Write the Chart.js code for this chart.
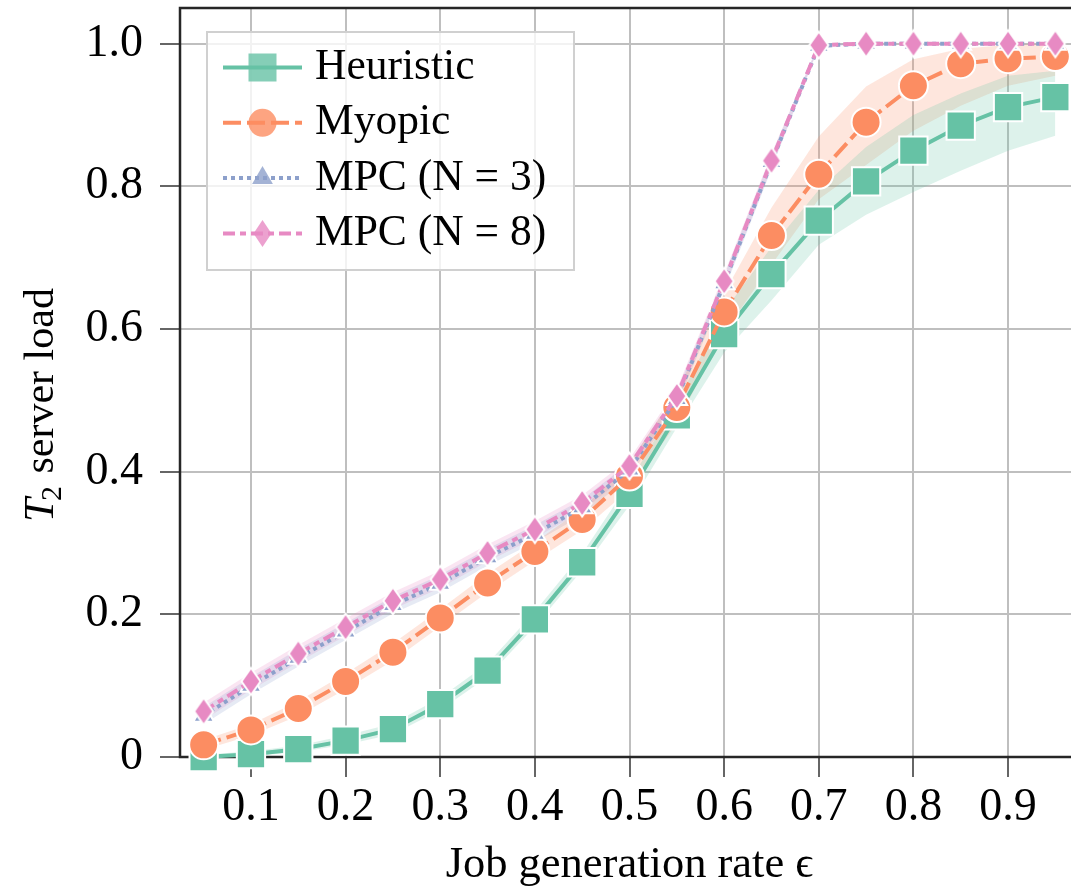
<!DOCTYPE html>
<html>
<head>
<meta charset="utf-8">
<script src="https://cdn.jsdelivr.net/npm/chart.js@4/dist/chart.umd.min.js"></script>
<style>
  html, body { margin: 0; padding: 0; background: #fff; overflow: hidden; }
  #wrap { width: 1090px; height: 892px; }
</style>
</head>
<body>
<div id="wrap"><canvas id="grafico" width="1090" height="892"></canvas></div>
<script>
const ctx = document.getElementById('grafico').getContext('2d');

// Eixo x: taxa de geração de jobs
const taxas = [0.05, 0.1, 0.15, 0.2, 0.25, 0.3, 0.35, 0.4, 0.45, 0.5,
               0.55, 0.6, 0.65, 0.7, 0.75, 0.8, 0.85, 0.9, 0.95];
const ticksX = [0.1, 0.2, 0.3, 0.4, 0.5, 0.6, 0.7, 0.8, 0.9];
const ticksY = [0, 0.2, 0.4, 0.6, 0.8, 1.0];

// Carga média do servidor T2 por estratégia
const heuristica = [0.000, 0.004, 0.011, 0.023, 0.039, 0.074, 0.121, 0.193, 0.273, 0.369,
                    0.479, 0.593, 0.677, 0.752, 0.807, 0.850, 0.885, 0.911, 0.925];
const miope      = [0.017, 0.038, 0.068, 0.106, 0.147, 0.195, 0.244, 0.288, 0.333, 0.394,
                    0.490, 0.624, 0.731, 0.817, 0.890, 0.941, 0.972, 0.979, 0.982];
const mpc3       = [0.058, 0.100, 0.139, 0.176, 0.213, 0.243, 0.280, 0.313, 0.350, 0.403,
                    0.502, 0.664, 0.834, 0.997, 1.000, 1.000, 1.000, 1.000, 1.000];
const mpc8       = [0.064, 0.106, 0.145, 0.182, 0.219, 0.249, 0.286, 0.319, 0.356, 0.408,
                    0.506, 0.667, 0.836, 0.998, 1.000, 1.000, 1.000, 1.000, 1.000];

// Intervalos de confiança (faixas sombreadas)
const heuristicaMin = [0.000, 0.001, 0.007, 0.017, 0.032, 0.066, 0.112, 0.183, 0.262, 0.353,
                       0.462, 0.567, 0.640, 0.718, 0.760, 0.792, 0.822, 0.850, 0.871];
const heuristicaMax = [0.003, 0.008, 0.016, 0.030, 0.047, 0.083, 0.131, 0.204, 0.285, 0.385,
                       0.497, 0.625, 0.715, 0.795, 0.855, 0.900, 0.930, 0.955, 0.962];
const miopeMin = [0.010, 0.030, 0.058, 0.095, 0.135, 0.183, 0.231, 0.275, 0.318, 0.375,
                  0.468, 0.595, 0.690, 0.782, 0.830, 0.878, 0.913, 0.941, 0.955];
const miopeMax = [0.024, 0.046, 0.078, 0.117, 0.159, 0.207, 0.257, 0.301, 0.348, 0.413,
                  0.512, 0.650, 0.770, 0.870, 0.940, 0.978, 0.993, 0.998, 1.000];
const mpc3Min = [0.046, 0.088, 0.127, 0.164, 0.201, 0.231, 0.268, 0.301, 0.339, 0.393,
                 0.492, 0.654, 0.824, 0.995, 1.000, 1.000, 1.000, 1.000, 1.000];
const mpc3Max = [0.070, 0.112, 0.151, 0.188, 0.225, 0.255, 0.292, 0.325, 0.361, 0.413,
                 0.512, 0.674, 0.844, 1.000, 1.000, 1.000, 1.000, 1.000, 1.000];
const mpc8Min = [0.052, 0.094, 0.133, 0.170, 0.207, 0.237, 0.274, 0.307, 0.345, 0.398,
                 0.496, 0.657, 0.826, 0.996, 1.000, 1.000, 1.000, 1.000, 1.000];
const mpc8Max = [0.076, 0.118, 0.157, 0.194, 0.231, 0.261, 0.298, 0.331, 0.367, 0.418,
                 0.516, 0.677, 0.846, 1.000, 1.000, 1.000, 1.000, 1.000, 1.000];

const nomes = ['Heuristic', 'Myopic', 'MPC (N = 3)', 'MPC (N = 8)'];
const cores = ['#66c2a5', '#fc8d62', '#8da0cb', '#e78ac3'];
const tracejados = [[], [18, 6], [4, 4], [12, 5, 6, 5]];
const fonte = '"Liberation Serif", "Times New Roman", serif';

function pontos(valores) {
    return taxas.map((x, i) => ({ x: x, y: valores[i] }));
}

// Losango estreito (marcador 'd') desenhado num canvas auxiliar
function losango(cor, borda) {
    const c = document.createElement('canvas');
    c.width = 24; c.height = 32;
    const g = c.getContext('2d');
    g.beginPath();
    g.moveTo(12, 2.5); g.lineTo(21.5, 16); g.lineTo(12, 29.5); g.lineTo(2.5, 16);
    g.closePath();
    g.fillStyle = cor; g.fill();
    if (borda) { g.strokeStyle = '#fff'; g.lineWidth = 2; g.stroke(); }
    return c;
}

const marcadores = ['rect', 'circle', 'triangle', losango(cores[3], true)];
const raios = [20, 14.5, 12, 13];

function faixa(min, max, cor) {
    return [
        { data: pontos(min), borderColor: 'transparent', borderWidth: 0, pointRadius: 0, fill: false, order: 10, clip: false },
        { data: pontos(max), borderColor: 'transparent', borderWidth: 0, pointRadius: 0, fill: '-1',
          backgroundColor: cor + '38', order: 10, clip: false }
    ];
}

function serie(i, valores) {
    return {
        label: nomes[i],
        data: pontos(valores),
        borderColor: cores[i],
        borderWidth: 4,
        borderDash: tracejados[i],
        pointStyle: marcadores[i],
        pointRadius: raios[i],
        pointBackgroundColor: cores[i],
        pointBorderColor: '#ffffff',
        pointBorderWidth: 2,
        fill: false,
        tension: 0,
        clip: false,
        order: 4 - i
    };
}

const dados = {
    datasets: [
        ...faixa(heuristicaMin, heuristicaMax, cores[0]),
        ...faixa(miopeMin, miopeMax, cores[1]),
        ...faixa(mpc3Min, mpc3Max, cores[2]),
        ...faixa(mpc8Min, mpc8Max, cores[3]),
        serie(0, heuristica),
        serie(1, miope),
        serie(2, mpc3),
        serie(3, mpc8)
    ]
};

// Moldura do gráfico (desenhada antes das séries)
const moldura = {
    id: 'moldura',
    beforeDatasetsDraw(chart) {
        const a = chart.chartArea, c = chart.ctx;
        c.save();
        c.strokeStyle = '#262626';
        c.lineWidth = 2.5;
        c.strokeRect(a.left, a.top, a.right - a.left, a.bottom - a.top);
        c.restore();
    }
};

function desenharMarcador(c, tipo, x, y, cor) {
    c.fillStyle = cor;
    c.beginPath();
    if (tipo === 0) {
        c.rect(x - 14, y - 14, 28, 28);
    } else if (tipo === 1) {
        c.arc(x, y, 14, 0, Math.PI * 2);
    } else if (tipo === 2) {
        c.moveTo(x, y - 12); c.lineTo(x + 10.4, y + 6); c.lineTo(x - 10.4, y + 6);
        c.closePath();
    } else {
        c.moveTo(x, y - 13.5); c.lineTo(x + 9, y); c.lineTo(x, y + 13.5); c.lineTo(x - 9, y);
        c.closePath();
    }
    c.fill();
}

// Legenda no canto superior esquerdo, com linha + marcador
const legenda = {
    id: 'legenda',
    afterDatasetsDraw(chart) {
        const a = chart.chartArea, c = chart.ctx;
        const x0 = a.left + 27, y0 = a.top + 24, w = 367, h = 238;
        c.save();
        c.fillStyle = 'rgba(255,255,255,0.8)';
        c.fillRect(x0, y0, w, h);
        c.strokeStyle = '#d0d0d0';
        c.lineWidth = 2;
        c.strokeRect(x0, y0, w, h);
        nomes.forEach((nome, i) => {
            const y = y0 + 35.5 + i * 55.3;
            c.strokeStyle = cores[i];
            c.lineWidth = 4;
            c.setLineDash(tracejados[i]);
            c.beginPath();
            c.moveTo(x0 + 16, y);
            c.lineTo(x0 + 95, y);
            c.stroke();
            c.setLineDash([]);
            c.globalAlpha = 0.8;
            desenharMarcador(c, i, x0 + 55.5, y, cores[i]);
            c.globalAlpha = 1;
            c.fillStyle = '#000';
            c.font = '43.5px ' + fonte;
            c.textBaseline = 'middle';
            c.textAlign = 'left';
            c.fillText(nome, x0 + 108, y);
        });
        c.restore();
    }
};

// Título do eixo y com T em itálico e índice 2
const tituloY = {
    id: 'tituloY',
    afterDraw(chart) {
        const a = chart.chartArea, c = chart.ctx;
        c.save();
        c.translate(53, (a.top + a.bottom) / 2 + 22);
        c.rotate(-Math.PI / 2);
        c.fillStyle = '#000';
        c.textBaseline = 'alphabetic';
        const resto = ' server load';
        c.font = 'italic 43px ' + fonte; const wT = c.measureText('T').width;
        c.font = '30px ' + fonte; const wS = c.measureText('2').width;
        c.font = '42px ' + fonte; const wR = c.measureText(resto).width;
        let x = -(wT + wS + wR) / 2;
        c.font = 'italic 43px ' + fonte; c.fillText('T', x, 0); x += wT - 3;
        c.font = '30px ' + fonte; c.fillText('2', x, 8); x += wS + 2;
        c.font = '42px ' + fonte; c.fillText(resto, x, 0);
        c.restore();
    }
};

const config = {
    type: 'line',
    data: dados,
    options: {
        responsive: false,
        animation: false,
        devicePixelRatio: 1,
        events: [],
        layout: { autoPadding: false, padding: { top: 8, right: 11, left: 0, bottom: 0 } },
        scales: {
            x: {
                type: 'linear',
                min: 0.025,
                max: 0.975,
                afterBuildTicks: (eixo) => { eixo.ticks = ticksX.map(v => ({ value: v })); },
                afterFit: (eixo) => { eixo.height = 135; eixo.paddingLeft = 0; eixo.paddingRight = 0; },
                grid: { color: '#bfbfbf', lineWidth: 2, tickColor: '#666', tickWidth: 2, tickLength: 20 },
                border: { display: false },
                ticks: {
                    color: '#000',
                    padding: 3,
                    maxRotation: 0,
                    font: { family: fonte, size: 46 },
                    callback: (v) => v.toFixed(1)
                },
                title: {
                    display: true,
                    text: 'Job generation rate ϵ',
                    color: '#000',
                    padding: { top: 0, bottom: 0 },
                    font: { family: fonte, size: 44.5 }
                }
            },
            y: {
                min: 0,
                max: 1.05,
                afterBuildTicks: (eixo) => { eixo.ticks = ticksY.map(v => ({ value: v })); },
                afterFit: (eixo) => { eixo.width = 180; eixo.paddingTop = 0; eixo.paddingBottom = 0; },
                grid: { color: '#bfbfbf', lineWidth: 2, tickColor: '#666', tickWidth: 2, tickLength: 20 },
                border: { display: false },
                ticks: {
                    color: '#000',
                    padding: 17,
                    font: { family: fonte, size: 46 },
                    callback: (v) => v === 0 ? '0' : v.toFixed(1)
                }
            }
        },
        plugins: {
            legend: { display: false },
            tooltip: { enabled: false }
        }
    },
    plugins: [moldura, legenda, tituloY]
};

const chart = new Chart(ctx, config); // Instância do gráfico
</script>
</body>
</html>
